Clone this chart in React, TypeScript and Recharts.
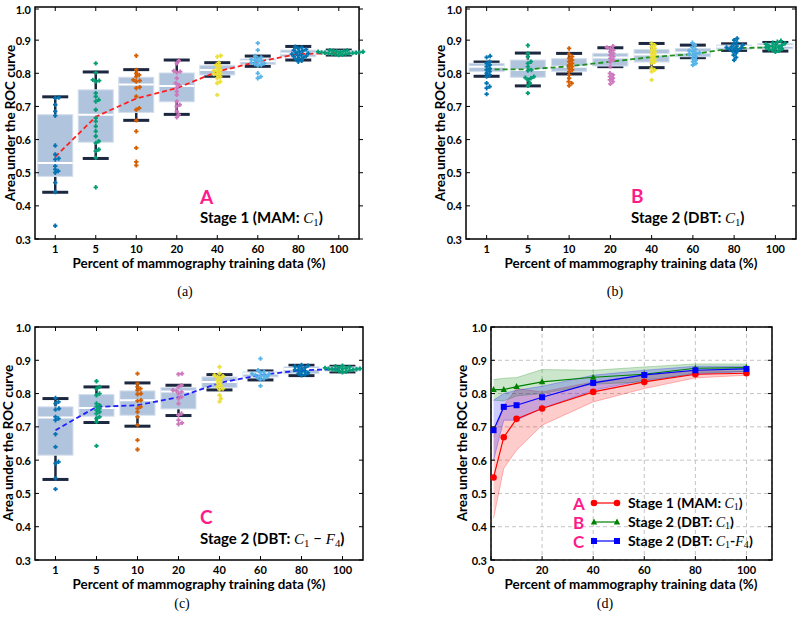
import React from 'react';
import {
  ComposedChart,
  Bar,
  Line,
  Area,
  Scatter,
  XAxis,
  YAxis,
  CartesianGrid,
  ReferenceArea,
} from 'recharts';

const CATS = ['1', '5', '10', '20', '40', '60', '80', '100'];
const PCT = [1, 5, 10, 20, 40, 60, 80, 100];
const Y_TICKS = [0.3, 0.4, 0.5, 0.6, 0.7, 0.8, 0.9, 1.0];

// Stage 1 (MAM: C1)
const A_WLO = [0.441, 0.543, 0.658, 0.676, 0.791, 0.821, 0.84, 0.855];
const A_Q1 = [0.489, 0.592, 0.682, 0.714, 0.795, 0.827, 0.85, 0.857];
const A_MED = [0.529, 0.675, 0.766, 0.762, 0.81, 0.836, 0.86, 0.862];
const A_Q3 = [0.675, 0.75, 0.788, 0.801, 0.824, 0.843, 0.87, 0.868];
const A_WHI = [0.729, 0.804, 0.811, 0.84, 0.832, 0.852, 0.881, 0.87];
const A_MEAN = [0.548, 0.669, 0.724, 0.755, 0.805, 0.835, 0.858, 0.861];
const A_PTS = [
  [0.727, 0.725, 0.705, 0.685, 0.672, 0.582, 0.555, 0.543, 0.54, 0.52, 0.51, 0.505, 0.5, 0.47, 0.442, 0.34],
  [0.83, 0.802, 0.78, 0.778, 0.775, 0.74, 0.73, 0.72, 0.715, 0.69, 0.665, 0.655, 0.64, 0.625, 0.61, 0.595, 0.59, 0.57, 0.565, 0.545, 0.456],
  [0.853, 0.81, 0.8, 0.795, 0.79, 0.78, 0.778, 0.775, 0.758, 0.755, 0.73, 0.695, 0.69, 0.658, 0.625, 0.575, 0.533, 0.522],
  [0.838, 0.83, 0.807, 0.805, 0.802, 0.785, 0.77, 0.765, 0.757, 0.745, 0.735, 0.715, 0.705, 0.7, 0.685, 0.675, 0.667],
  [0.853, 0.85, 0.832, 0.825, 0.822, 0.815, 0.81, 0.808, 0.805, 0.8, 0.798, 0.795, 0.79, 0.785, 0.775, 0.77, 0.735],
  [0.891, 0.87, 0.852, 0.848, 0.845, 0.842, 0.84, 0.838, 0.835, 0.832, 0.83, 0.828, 0.825, 0.823, 0.8, 0.79, 0.785],
  [0.88, 0.878, 0.875, 0.872, 0.87, 0.868, 0.865, 0.862, 0.86, 0.858, 0.856, 0.854, 0.852, 0.85, 0.847, 0.845, 0.842, 0.838, 0.835],
  [0.87, 0.869, 0.868, 0.867, 0.866, 0.865, 0.865, 0.864, 0.863, 0.863, 0.862, 0.862, 0.861, 0.86, 0.86, 0.859, 0.858, 0.857, 0.856, 0.855],
];

// Stage 2 (DBT: C1)
const B_WLO = [0.791, 0.762, 0.798, 0.82, 0.817, 0.847, 0.869, 0.867];
const B_Q1 = [0.805, 0.788, 0.806, 0.822, 0.834, 0.85, 0.873, 0.874];
const B_MED = [0.82, 0.81, 0.82, 0.848, 0.857, 0.863, 0.88, 0.883];
const B_Q3 = [0.83, 0.84, 0.844, 0.86, 0.872, 0.875, 0.885, 0.89];
const B_WHI = [0.834, 0.861, 0.86, 0.877, 0.89, 0.885, 0.889, 0.893];
const B_MEAN = [0.812, 0.812, 0.821, 0.835, 0.849, 0.858, 0.876, 0.878];
const B_PTS = [
  [0.852, 0.848, 0.835, 0.83, 0.825, 0.82, 0.815, 0.81, 0.805, 0.8, 0.795, 0.79, 0.77, 0.76, 0.755, 0.737],
  [0.884, 0.86, 0.85, 0.835, 0.83, 0.82, 0.81, 0.808, 0.79, 0.787, 0.785, 0.78, 0.77, 0.762, 0.74],
  [0.875, 0.858, 0.85, 0.845, 0.84, 0.835, 0.83, 0.825, 0.82, 0.815, 0.81, 0.805, 0.795, 0.785, 0.775, 0.77, 0.763],
  [0.882, 0.878, 0.875, 0.87, 0.865, 0.86, 0.855, 0.85, 0.845, 0.84, 0.835, 0.82, 0.8, 0.795, 0.79, 0.785, 0.78, 0.775, 0.768],
  [0.89, 0.885, 0.88, 0.875, 0.87, 0.865, 0.86, 0.855, 0.85, 0.845, 0.84, 0.835, 0.83, 0.815, 0.81, 0.805, 0.78],
  [0.892, 0.885, 0.878, 0.872, 0.868, 0.865, 0.862, 0.86, 0.857, 0.855, 0.85, 0.845, 0.84, 0.835, 0.83, 0.825],
  [0.905, 0.9, 0.893, 0.888, 0.885, 0.882, 0.88, 0.878, 0.876, 0.874, 0.872, 0.87, 0.866, 0.862, 0.855, 0.848, 0.84],
  [0.898, 0.895, 0.892, 0.89, 0.888, 0.886, 0.885, 0.883, 0.882, 0.88, 0.878, 0.876, 0.874, 0.872, 0.87, 0.868, 0.865],
];

// Stage 2 (DBT: C1 - F4)
const C_WLO = [0.542, 0.713, 0.702, 0.734, 0.811, 0.841, 0.854, 0.865];
const C_Q1 = [0.615, 0.732, 0.735, 0.754, 0.818, 0.85, 0.86, 0.868];
const C_MED = [0.728, 0.757, 0.78, 0.806, 0.835, 0.86, 0.874, 0.874];
const C_Q3 = [0.76, 0.797, 0.808, 0.818, 0.85, 0.865, 0.88, 0.88];
const C_WHI = [0.785, 0.82, 0.832, 0.825, 0.857, 0.868, 0.885, 0.882];
const C_MEAN = [0.69, 0.76, 0.765, 0.789, 0.832, 0.856, 0.87, 0.874];
const C_PTS = [
  [0.787, 0.775, 0.77, 0.755, 0.752, 0.73, 0.725, 0.72, 0.678, 0.64, 0.595, 0.59, 0.545, 0.513],
  [0.837, 0.82, 0.815, 0.8, 0.795, 0.77, 0.765, 0.76, 0.755, 0.75, 0.745, 0.74, 0.73, 0.725, 0.715, 0.643],
  [0.86, 0.83, 0.82, 0.815, 0.81, 0.8, 0.798, 0.78, 0.778, 0.76, 0.755, 0.745, 0.73, 0.705, 0.66, 0.632],
  [0.86, 0.858, 0.825, 0.82, 0.81, 0.808, 0.805, 0.8, 0.79, 0.785, 0.77, 0.74, 0.735, 0.72, 0.712, 0.708],
  [0.88, 0.86, 0.855, 0.852, 0.85, 0.845, 0.84, 0.835, 0.83, 0.825, 0.82, 0.815, 0.812, 0.795, 0.785, 0.776],
  [0.905, 0.87, 0.866, 0.863, 0.86, 0.858, 0.856, 0.855, 0.853, 0.85, 0.848, 0.845, 0.842, 0.823],
  [0.886, 0.884, 0.882, 0.88, 0.878, 0.875, 0.872, 0.87, 0.868, 0.865, 0.862, 0.86, 0.857, 0.855],
  [0.884, 0.882, 0.88, 0.878, 0.877, 0.876, 0.875, 0.875, 0.874, 0.873, 0.873, 0.872, 0.871, 0.87, 0.868, 0.866, 0.864],
];

// panel (d) shaded ranges
const A_BAND_LO = [0.425, 0.575, 0.63, 0.705, 0.775, 0.815, 0.847, 0.855];
const A_BAND_HI = [0.67, 0.765, 0.815, 0.805, 0.835, 0.855, 0.869, 0.867];
const B_BAND_LO = [0.78, 0.778, 0.793, 0.8, 0.828, 0.835, 0.862, 0.866];
const B_BAND_HI = [0.842, 0.846, 0.848, 0.872, 0.87, 0.88, 0.889, 0.889];
const C_BAND_LO = [0.6, 0.72, 0.72, 0.755, 0.81, 0.84, 0.858, 0.866];
const C_BAND_HI = [0.78, 0.8, 0.81, 0.822, 0.855, 0.87, 0.882, 0.882];

const SWARM_COLORS = ['#0173b2', '#029e73', '#d55e00', '#cc78bc', '#ece133', '#56b4e9', '#0173b2', '#029e73'];
const NAVY = '#1c2740';
const PINK = '#ff1a8c';
const FONT = 'Lato, sans-serif';
const SERIF = "'Liberation Serif', serif";

// beeswarm offsets (pixels) so points do not overlap
function swarm(vals: number[], cat: number) {
  const pxY = 331;
  const band = 41;
  const d = 3.3;
  const placed: { px: number; py: number }[] = [];
  return [...vals]
    .sort((a, b) => a - b)
    .map((v) => {
      const py = v * pxY;
      let off = 0;
      for (let k = 0; k < 120; k++) {
        const cand = k === 0 ? 0 : (k % 2 ? 1 : -1) * Math.ceil(k / 2) * 0.5;
        if (placed.every((p) => Math.hypot(p.px - cand, p.py - py) >= d)) {
          off = cand;
          break;
        }
      }
      placed.push({ px: off, py });
      return { x: cat + off / band, y: v, c: cat };
    });
}

// tick with inward marks on both sides of the frame
const makeYTick = (plotW: number) => (props: any) => {
  const { x, y, payload } = props;
  const ax = x + 4;
  return (
    <g>
      <line x1={ax} x2={ax + 4} y1={y} y2={y} stroke="#000" strokeWidth={1} />
      <line x1={ax + plotW - 4} x2={ax + plotW} y1={y} y2={y} stroke="#000" strokeWidth={1} />
      <text x={x} y={y} textAnchor="end" dominantBaseline="central" fontFamily={FONT} fontWeight={700} fontSize={11} fill="#000">
        {Number(payload.value).toFixed(1)}
      </text>
    </g>
  );
};

const makeXTick = (plotH: number, fmt: (v: number) => string) => (props: any) => {
  const { x, y, payload } = props;
  const ay = y - 6;
  return (
    <g>
      <line x1={x} x2={x} y1={ay} y2={ay - 4} stroke="#000" strokeWidth={1} />
      <line x1={x} x2={x} y1={ay - plotH} y2={ay - plotH + 4} stroke="#000" strokeWidth={1} />
      <text x={x} y={y} dy="0.75em" textAnchor="middle" fontFamily={FONT} fontWeight={700} fontSize={11} fill="#000">
        {fmt(payload.value)}
      </text>
    </g>
  );
};

const BoxShape = (props: any) => {
  const { x, y, width, height, payload } = props;
  if (!payload || height == null) return null;
  const top = Math.min(y, y + height);
  const h = Math.abs(height);
  const span = payload.hi - payload.lo;
  const py = (v: number) => top + ((payload.hi - v) / span) * h;
  const cx = x + width / 2;
  const bw = 35;
  const cw = 26;
  return (
    <g>
      <line x1={cx} x2={cx} y1={py(payload.hi)} y2={py(payload.q3)} stroke={NAVY} strokeWidth={2.5} />
      <line x1={cx} x2={cx} y1={py(payload.q1)} y2={py(payload.lo)} stroke={NAVY} strokeWidth={2.5} />
      <line x1={cx - cw / 2} x2={cx + cw / 2} y1={py(payload.hi)} y2={py(payload.hi)} stroke={NAVY} strokeWidth={3} />
      <line x1={cx - cw / 2} x2={cx + cw / 2} y1={py(payload.lo)} y2={py(payload.lo)} stroke={NAVY} strokeWidth={3} />
      <rect
        x={cx - bw / 2}
        y={py(payload.q3)}
        width={bw}
        height={Math.max(py(payload.q1) - py(payload.q3), 1)}
        fill="#b1c4de"
        stroke="#d3deec"
        strokeWidth={1}
      />
      <line x1={cx - bw / 2} x2={cx + bw / 2} y1={py(payload.med)} y2={py(payload.med)} stroke="#fff" strokeWidth={2} />
    </g>
  );
};

const PlusDot = (props: any) => {
  const { cx, cy, payload } = props;
  if (cx == null || cy == null) return null;
  const c = SWARM_COLORS[payload.c];
  return (
    <path
      d={`M${cx - 0.9},${cy - 2.2}h1.8v1.3h1.3v1.8h-1.3v1.3h-1.8v-1.3h-1.3v-1.8h1.3z`}
      fill={c}
    />
  );
};

interface BoxPanelProps {
  left: number;
  top: number;
  height: number;
  margin: { top: number; right: number; left: number; bottom: number };
  lo: number[];
  q1: number[];
  med: number[];
  q3: number[];
  hi: number[];
  mean: number[];
  pts: number[][];
  meanColor: string;
}

function BoxPanel({ left, top, height, margin, lo, q1, med, q3, hi, mean, pts, meanColor }: BoxPanelProps) {
  const rows = CATS.map((_, i) => ({
    x: i,
    lo: lo[i],
    q1: q1[i],
    med: med[i],
    q3: q3[i],
    hi: hi[i],
    range: [lo[i], hi[i]],
    mean: mean[i],
  }));
  const points = pts.flatMap((vals, i) => swarm(vals, i));
  const plotW = 400 - margin.left - margin.right - 35;
  const plotH = height - margin.top - margin.bottom - 24;
  return (
    <div style={{ position: 'absolute', left, top }}>
      <ComposedChart width={400} height={height} data={rows} margin={margin}>
        <XAxis
          dataKey="x"
          type="number"
          domain={[-0.5, 7.5]}
          ticks={[0, 1, 2, 3, 4, 5, 6, 7]}
          axisLine={false}
          tickLine={false}
          tickSize={0}
          tickMargin={6}
          height={24}
          tick={makeXTick(plotH, (v) => CATS[v])}
        />
        <YAxis
          dataKey="y"
          type="number"
          domain={[0.3, 1.0]}
          ticks={Y_TICKS}
          axisLine={false}
          tickLine={false}
          tickSize={0}
          tickMargin={4}
          width={35}
          tick={makeYTick(plotW)}
        />
        <Bar dataKey="range" barSize={35} shape={<BoxShape />} isAnimationActive={false} />
        <Scatter data={points} shape={<PlusDot />} isAnimationActive={false} />
        <Line
          dataKey="mean"
          type="linear"
          stroke={meanColor}
          strokeWidth={1.8}
          strokeDasharray="5 3"
          dot={false}
          isAnimationActive={false}
        />
        <ReferenceArea x1={-0.5} x2={7.5} y1={0.3} y2={1.0} fill="none" stroke="#000" strokeWidth={1.5} />
      </ComposedChart>
    </div>
  );
}

function SummaryPanel() {
  const rows = PCT.map((p, i) => ({
    x: p,
    a: A_MEAN[i],
    b: B_MEAN[i],
    c: C_MEAN[i],
    aBand: [A_BAND_LO[i], A_BAND_HI[i]],
    bBand: [B_BAND_LO[i], B_BAND_HI[i]],
    cBand: [C_BAND_LO[i], C_BAND_HI[i]],
  }));
  return (
    <div style={{ position: 'absolute', left: 400, top: 310 }}>
      <ComposedChart width={400} height={274} data={rows} margin={{ top: 17, right: 28, left: 56, bottom: 0 }}>
        <CartesianGrid stroke="#c4c4c4" strokeDasharray="4 3" />
        <XAxis
          dataKey="x"
          type="number"
          domain={[0, 110]}
          ticks={[0, 20, 40, 60, 80, 100]}
          axisLine={false}
          tickLine={false}
          tickSize={0}
          tickMargin={6}
          height={24}
          tick={makeXTick(233, (v) => String(v))}
        />
        <YAxis
          type="number"
          domain={[0.3, 1.0]}
          ticks={Y_TICKS}
          axisLine={false}
          tickLine={false}
          tickSize={0}
          tickMargin={4}
          width={35}
          tick={makeYTick(281)}
        />
        <Area dataKey="aBand" type="linear" fill="#ff0000" fillOpacity={0.2} stroke="#ff0000" strokeOpacity={0.25} isAnimationActive={false} />
        <Area dataKey="bBand" type="linear" fill="#008000" fillOpacity={0.2} stroke="#008000" strokeOpacity={0.25} isAnimationActive={false} />
        <Area dataKey="cBand" type="linear" fill="#0000ff" fillOpacity={0.2} stroke="#0000ff" strokeOpacity={0.25} isAnimationActive={false} />
        <Line
          dataKey="a"
          type="linear"
          stroke="#ff0000"
          strokeWidth={1.2}
          isAnimationActive={false}
          dot={(p: any) => <circle key={`a${p.index}`} cx={p.cx} cy={p.cy} r={3.3} fill="#ff0000" />}
        />
        <Line
          dataKey="b"
          type="linear"
          stroke="#008000"
          strokeWidth={1.2}
          isAnimationActive={false}
          dot={(p: any) => (
            <path
              key={`b${p.index}`}
              d={`M${p.cx},${p.cy - 3.6}L${p.cx + 3.2},${p.cy + 2.4}L${p.cx - 3.2},${p.cy + 2.4}Z`}
              fill="#008000"
            />
          )}
        />
        <Line
          dataKey="c"
          type="linear"
          stroke="#0000ff"
          strokeWidth={1.2}
          isAnimationActive={false}
          dot={(p: any) => <rect key={`c${p.index}`} x={p.cx - 3} y={p.cy - 3} width={6} height={6} fill="#0000ff" />}
        />
        <ReferenceArea x1={0} x2={110} y1={0.3} y2={1.0} fill="none" stroke="#000" strokeWidth={1.5} />
      </ComposedChart>
    </div>
  );
}

const MathSym = ({ sym, sub }: { sym: string; sub: string }) => (
  <>
    <tspan fontFamily={SERIF} fontStyle="italic" fontWeight={400}>{sym}</tspan>
    <tspan fontFamily={SERIF} fontWeight={400} fontSize="0.72em" dy={2.5}>{sub}</tspan>
  </>
);

function Overlay() {
  const axisTitle = { fontFamily: FONT, fontWeight: 700, fontSize: 13.4, fill: '#000' } as const;
  const note = { fontFamily: FONT, fontWeight: 700, fontSize: 15, fill: '#000' } as const;
  const letter = { fontFamily: FONT, fontWeight: 700, fontSize: 19, fill: PINK } as const;
  const cap = { fontFamily: SERIF, fontSize: 14, fill: '#000', textAnchor: 'middle' } as const;
  const yTitle = (x: number, y: number) => (
    <text x={x} y={y} transform={`rotate(-90 ${x} ${y})`} textAnchor="middle" dominantBaseline="central" {...axisTitle}>
      Area under the ROC curve
    </text>
  );
  const xTitle = (x: number, y: number) => (
    <text x={x} y={y} textAnchor="middle" {...axisTitle}>
      Percent of mammography training data (%)
    </text>
  );
  const legendRow = (y: number, color: string, marker: 'o' | '^' | 's', letterText: string, label: React.ReactNode) => {
    const m = (cx: number) =>
      marker === 'o' ? (
        <circle cx={cx} cy={y} r={3.3} fill={color} />
      ) : marker === '^' ? (
        <path d={`M${cx},${y - 3.6}L${cx + 3.2},${y + 2.4}L${cx - 3.2},${y + 2.4}Z`} fill={color} />
      ) : (
        <rect x={cx - 3} y={y - 3} width={6} height={6} fill={color} />
      );
    return (
      <g>
        <text x={573} y={y + 7} fontFamily={FONT} fontWeight={700} fontSize={17} fill={PINK}>{letterText}</text>
        <line x1={594} x2={617} y1={y} y2={y} stroke={color} strokeWidth={1.2} />
        {m(594)}
        {m(617)}
        <text x={628} y={y + 4.5} fontFamily={FONT} fontWeight={700} fontSize={14} fill="#000">{label}</text>
      </g>
    );
  };
  return (
    <svg width={800} height={619} style={{ position: 'absolute', left: 0, top: 0, pointerEvents: 'none' }}>
      {yTitle(10, 123)}
      {yTitle(440, 123)}
      {yTitle(8, 443)}
      {yTitle(462, 443)}
      {xTitle(199, 268)}
      {xTitle(631, 268)}
      {xTitle(199, 589)}
      {xTitle(631, 589)}

      <text x={200} y={204} {...letter}>A</text>
      <text x={200} y={223} {...note}>
        Stage 1 (MAM: <MathSym sym="C" sub="1" /><tspan dy={-2.5}>)</tspan>
      </text>

      <text x={631} y={203} {...letter}>B</text>
      <text x={631} y={223} {...note}>
        Stage 2 (DBT: <MathSym sym="C" sub="1" /><tspan dy={-2.5}>)</tspan>
      </text>

      <text x={200} y={524} {...letter}>C</text>
      <text x={200} y={544} {...note}>
        Stage 2 (DBT: <MathSym sym="C" sub="1" />
        <tspan dy={-2.5} fontWeight={400}> − </tspan>
        <MathSym sym="F" sub="4" />
        <tspan dy={-2.5}>)</tspan>
      </text>

      {legendRow(503, '#ff0000', 'o', 'A', <>Stage 1 (MAM: <MathSym sym="C" sub="1" /><tspan dy={-2.5}>)</tspan></>)}
      {legendRow(522, '#008000', '^', 'B', <>Stage 2 (DBT: <MathSym sym="C" sub="1" /><tspan dy={-2.5}>)</tspan></>)}
      {legendRow(541, '#0000ff', 's', 'C', <>Stage 2 (DBT: <MathSym sym="C" sub="1" /><tspan dy={-2.5}>-</tspan><MathSym sym="F" sub="4" /><tspan dy={-2.5}>)</tspan></>)}

      <text x={185} y={296} {...cap}>(a)</text>
      <text x={615} y={296} {...cap}>(b)</text>
      <text x={182} y={608} {...cap}>(c)</text>
      <text x={605} y={608} {...cap}>(d)</text>
    </svg>
  );
}

export default function App() {
  return (
    <div style={{ position: 'absolute', left: 0, top: 0, width: 800, height: 619, background: '#fff', overflow: 'hidden' }}>
      <BoxPanel
        left={0}
        top={0}
        height={263}
        margin={{ top: 7, right: 37, left: 0, bottom: 0 }}
        lo={A_WLO}
        q1={A_Q1}
        med={A_MED}
        q3={A_Q3}
        hi={A_WHI}
        mean={A_MEAN}
        pts={A_PTS}
        meanColor="#ff1f1f"
      />
      <BoxPanel
        left={400}
        top={0}
        height={263}
        margin={{ top: 7, right: 4, left: 31, bottom: 0 }}
        lo={B_WLO}
        q1={B_Q1}
        med={B_MED}
        q3={B_Q3}
        hi={B_WHI}
        mean={B_MEAN}
        pts={B_PTS}
        meanColor="#1f8f1f"
      />
      <BoxPanel
        left={0}
        top={310}
        height={274}
        margin={{ top: 17, right: 37, left: 0, bottom: 0 }}
        lo={C_WLO}
        q1={C_Q1}
        med={C_MED}
        q3={C_Q3}
        hi={C_WHI}
        mean={C_MEAN}
        pts={C_PTS}
        meanColor="#1f1fff"
      />
      <SummaryPanel />
      <Overlay />
    </div>
  );
}
